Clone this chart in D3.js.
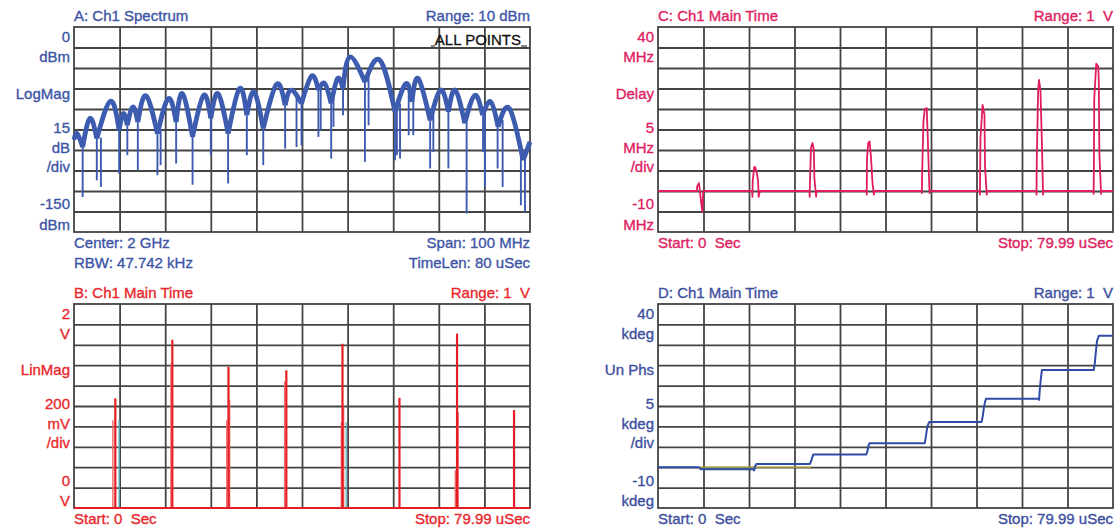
<!DOCTYPE html>
<html>
<head>
<meta charset="utf-8">
<script src="https://cdn.jsdelivr.net/npm/d3@7"></script>
<style>
  html, body { margin: 0; padding: 0; background: #fff; }
  svg { display: block; }
  text { font-family: "Liberation Sans", Arial, sans-serif; font-size: 15px; white-space: pre; }
</style>
</head>
<body>
<svg id="chart" width="1116" height="531"></svg>
<script>
// ---- A: spectrum, lobe nulls/peaks alternating [MHz, dBm]
const specEnvelope = [
  [1950.0, -82.5], [1950.7, -78], [1951.9, -87.8], [1953.5, -66.9], [1955.0, -81.6],
  [1958.0, -54.3], [1959.9, -75.5], [1960.8, -63.3], [1961.7, -71.9], [1962.9, -58.5],
  [1964.0, -69.5], [1965.8, -50.4], [1968.3, -78], [1970.7, -52.4], [1972.4, -69.5],
  [1973.8, -48.8], [1976.0, -80.4], [1978.4, -50], [1980.0, -66.9], [1981.6, -48.8],
  [1983.8, -78], [1986.3, -45], [1987.9, -64.5], [1989.5, -47.6], [1991.5, -74.3],
  [1994.4, -42], [1996.3, -57.2], [1997.6, -46.2], [1999.9, -56], [2002.1, -35.9],
  [2003.6, -46.2], [2005.0, -41.4], [2006.4, -56], [2007.8, -37.7], [2009.0, -45],
  [2010.5, -21.9], [2013.8, -40.2], [2017.1, -24.3], [2020.4, -62.1], [2022.8, -41.4],
  [2024.1, -54.8], [2025.5, -37.7], [2028.1, -68.3], [2030.4, -46.2], [2032.1, -62.1],
  [2033.6, -46.2], [2035.7, -70.5], [2037.9, -50], [2039.6, -64.5], [2041.4, -54.8],
  [2043.0, -73], [2045.5, -59.7], [2048.5, -97.5], [2050.0, -84]
];
// deep nulls [MHz, top dBm, bottom dBm]
const specDips = [
  [1951.9, -87.8, -124.4], [1955.0, -81.6, -112.2], [1955.9, -81, -117], [1959.9, -75.5, -107.3],
  [1961.7, -71.9, -93.8], [1964.0, -69.5, -104.9], [1968.3, -78, -108.5], [1969.0, -75, -101.1],
  [1972.4, -69.5, -99.9], [1976.0, -80.4, -115.4], [1980.0, -66.9, -93.8], [1983.8, -78, -114.5],
  [1987.9, -64.5, -93.8], [1991.5, -74.3, -101.1], [1996.3, -57.2, -89], [1998.8, -50, -87.8],
  [1999.9, -56, -86.6], [2003.6, -46.2, -80.4], [2004.1, -44, -75.5], [2006.4, -56, -96.3],
  [2006.9, -52, -73.1], [2009.0, -45, -64.5], [2013.8, -40.2, -98.7], [2014.6, -36, -71.9],
  [2020.4, -62.1, -97.5], [2020.8, -60, -93.8], [2021.5, -56, -96.3], [2023.4, -46, -79.2],
  [2024.4, -52, -79.2], [2028.1, -68.3, -103.5], [2028.8, -62, -91.4], [2032.1, -62.1, -103.5],
  [2036.1, -70, -136.5], [2039.7, -64.5, -91.4], [2040.1, -62, -117], [2042.9, -72, -103.5],
  [2044.0, -68, -117], [2048.0, -90, -130.4], [2048.9, -92, -135.3]
];

// ---- B: lin mag pulses [uSec, V]
const magPulses = [[7.25, 1.075], [17.25, 1.65], [27.1, 1.385], [37.25, 1.35], [47.1, 1.61], [57.1, 1.08], [67.2, 1.71], [77.2, 0.96]];
const magInner = [[6.82, 0.86], [17.0, 1.42], [27.3, 1.06], [26.8, 0.86], [36.95, 1.24], [47.3, 1.0], [46.9, 0.84], [67.4, 0.94], [66.9, 0.37]];
const magGhost = [[7.9, 0.86], [47.75, 0.84]];

// ---- C: group delay trace [uSec, MHz]
const delayTrace = [
  [0, 0],
  [6.85, 0], [6.88, 1.1], [7.19, 1.9], [7.32, 0.6], [7.63, -3.4], [7.81, -5.1], [7.94, 0],
  [16.55, 0], [16.6, -1.4], [16.65, 2.3], [16.9, 5.8], [17.1, 5.8], [17.4, 4.3], [17.6, 2.3], [17.7, -1.4], [17.9, 0],
  [26.62, 0], [26.67, -1.4], [26.72, 2.3], [26.9, 10.5], [27.16, 11.7], [27.4, 10.1], [27.5, 3.1], [27.8, -1.4], [27.85, 0],
  [36.65, 0], [36.7, -0.9], [36.75, 8.0], [36.96, 11.7], [37.2, 12.1], [37.46, 8.0], [37.7, 2.3], [37.95, -0.9], [38.0, 0],
  [46.35, 0], [46.4, -0.5], [46.45, 4.8], [46.67, 17], [46.9, 20], [47.25, 20.2], [47.4, 14.5], [47.7, 1.1], [47.75, -0.5], [47.8, 0],
  [56.55, 0], [56.6, -0.9], [56.7, 12.9], [57.07, 21], [57.4, 18.6], [57.5, 6], [57.8, -0.9], [57.85, 0],
  [66.5, 0], [66.55, -0.9], [66.6, 7.6], [66.84, 24.7], [67.0, 27.1], [67.25, 24.3], [67.5, 11.7], [67.7, -0.9], [67.75, 0],
  [76.55, 0], [76.6, -0.7], [76.65, 7.6], [76.7, 22.3], [77.05, 31.05], [77.4, 30.4], [77.5, 27.1], [77.6, 9.3], [77.9, -0.7], [77.95, 0],
  [79.99, 0]
];

// ---- D: unwrapped phase [uSec, kdeg]
const phaseTrace = [
  [0, 0], [7.1, 0], [7.3, -0.2], [7.5, -0.5], [16.8, -0.5], [16.9, -0.8], [17.1, 0.3], [17.3, 0.8],
  [26.7, 0.8], [26.9, 1.4], [27.1, 2.3], [27.3, 3.1], [36.6, 3.1], [36.8, 3.8], [37.0, 5.2], [37.2, 5.9],
  [46.9, 5.9], [47.1, 7.5], [47.3, 9.5], [47.5, 10.5], [47.7, 11.1], [56.9, 11.1], [57.1, 12.5], [57.3, 14.6],
  [57.5, 16.0], [57.7, 16.8], [66.9, 16.8], [67.0, 16.5], [67.1, 18.5], [67.3, 21.5], [67.5, 23.8],
  [76.6, 23.8], [76.8, 25.5], [77.0, 28.5], [77.2, 31], [77.5, 32.2], [79.99, 32.2]
];
const phaseGhost = [[7.3, 0], [26.9, 0]];

// ---- text
const aSide = ["0", "dBm", "LogMag", "15", "dB", "/div", "-150", "dBm"];
const bSide = ["2", "V", "LinMag", "200", "mV", "/div", "0", "V"];
const cSide = ["40", "MHz", "Delay", "5", "MHz", "/div", "-10", "MHz"];
const dSide = ["40", "kdeg", "Un Phs", "5", "kdeg", "/div", "-10", "kdeg"];
const timeFoot = ["Start: 0  Sec", "Stop: 79.99 uSec"];

const svg = d3.select('#chart');
const sideRows = [0.72, 1.7, 3.5, 5.17, 6.15, 7.05, 8.9, 9.88];

function panel(o) {
  const g = svg.append('g');
  const x = d3.scaleLinear().domain(o.xDomain).range([o.left, o.left + o.w]);
  const y = d3.scaleLinear().domain(o.yDomain).range([o.top + o.h, o.top]);
  const gx = d3.scaleLinear().domain([0, 10]).range([o.left, o.left + o.w]);
  const gy = d3.scaleLinear().domain([0, 10]).range([o.top, o.top + o.h]);

  // grid
  g.append('g')
    .attr('transform', `translate(0,${o.top})`)
    .call(d3.axisBottom(gx).tickValues(d3.range(1, 10)).tickSize(o.h).tickFormat(''));
  g.append('g')
    .attr('transform', `translate(${o.left},0)`)
    .call(d3.axisRight(gy).tickValues(d3.range(1, 10)).tickSize(o.w).tickFormat(''));
  g.selectAll('.domain').remove();
  g.selectAll('.tick line').attr('stroke', '#444').attr('stroke-width', 1.8);
  g.append('rect')
    .attr('x', o.left).attr('y', o.top).attr('width', o.w).attr('height', o.h)
    .attr('fill', 'none').attr('stroke', '#444').attr('stroke-width', 1.8);

  const txt = (s, tx, ty, anchor, col) => g.append('text')
    .attr('x', tx).attr('y', ty).attr('text-anchor', anchor)
    .attr('fill', col || o.color).attr('stroke', col || o.color).attr('stroke-width', 0.35)
    .text(s);

  txt(o.title, o.left, o.top - 6, 'start');
  txt(o.range, o.left + o.w, o.top - 6, 'end');
  o.side.forEach((s, i) => txt(s, o.left - 4, o.top + sideRows[i] * o.h / 10, 'end'));
  o.footL.forEach((s, i) => txt(s, o.left, o.top + o.h + 16 + i * 19.5, 'start'));
  o.footR.forEach((s, i) => txt(s, o.left + o.w, o.top + o.h + 16 + i * 19.5, 'end'));

  const plot = g.append('g');
  o.draw(plot, x, y);
  return g;
}

// A: spectrum
panel({
  left: 74, top: 27, w: 456, h: 205,
  xDomain: [1950, 2050], yDomain: [-150, 0],
  color: '#3d55a6',
  title: 'A: Ch1 Spectrum', range: 'Range: 10 dBm', side: aSide,
  footL: ['Center: 2 GHz', 'RBW: 47.742 kHz'], footR: ['Span: 100 MHz', 'TimeLen: 80 uSec'],
  draw(p, x, y) {
    const col = '#3d5cb0';
    p.selectAll('.dip').data(specDips).join('line')
      .attr('x1', d => x(d[0])).attr('x2', d => x(d[0]))
      .attr('y1', d => y(d[1])).attr('y2', d => y(d[2]))
      .attr('stroke', col).attr('stroke-width', 1.9);
    const lobes = [];
    for (let i = 1; i < specEnvelope.length; i += 2) lobes.push(specEnvelope.slice(i - 1, i + 2));
    const ln = d3.line().x(d => x(d[0])).y(d => y(d[1])).curve(d3.curveNatural);
    p.selectAll('.lobe').data(lobes).join('path')
      .attr('d', ln).attr('fill', 'none').attr('stroke', col)
      .attr('stroke-width', 4.8).attr('stroke-linejoin', 'round');
    // marker text
    const t = p.append('text').attr('x', 521).attr('y', 45).attr('text-anchor', 'end')
      .attr('fill', '#111').attr('stroke', '#111').attr('stroke-width', 0.3).text('ALL POINTS');
    const bb = t.node().getBBox();
    p.append('line').attr('x1', bb.x - 4).attr('x2', bb.x).attr('y1', 46).attr('y2', 46).attr('stroke', '#111');
    p.append('line').attr('x1', 521).attr('x2', 527).attr('y1', 46).attr('y2', 46).attr('stroke', '#111');
  }
});

// B: lin mag
panel({
  left: 74, top: 304, w: 456, h: 204,
  xDomain: [0, 80], yDomain: [0, 2],
  color: '#e8282d',
  title: 'B: Ch1 Main Time', range: 'Range: 1  V', side: bSide,
  footL: [timeFoot[0]], footR: [timeFoot[1]],
  draw(p, x, y) {
    const vline = (sel, data, col, w) => sel.selectAll(null).data(data).join('line')
      .attr('x1', d => x(d[0])).attr('x2', d => x(d[0]))
      .attr('y1', y(0)).attr('y2', d => y(d[1]))
      .attr('stroke', col).attr('stroke-width', w);
    vline(p, magGhost, '#5fb8c8', 1.3);
    vline(p, magInner, '#ef6b6b', 1.4);
    vline(p, magPulses, '#e41e24', 2.2);
    p.append('line').attr('x1', x(0)).attr('x2', x(79.99)).attr('y1', y(0)).attr('y2', y(0))
      .attr('stroke', '#e41e24').attr('stroke-width', 2.2);
  }
});

// C: group delay
panel({
  left: 658, top: 27, w: 455, h: 205,
  xDomain: [0, 80], yDomain: [-10, 40],
  color: '#de2262',
  title: 'C: Ch1 Main Time', range: 'Range: 1  V', side: cSide,
  footL: [timeFoot[0]], footR: [timeFoot[1]],
  draw(p, x, y) {
    p.append('path').datum(delayTrace)
      .attr('d', d3.line().x(d => x(d[0])).y(d => y(d[1])))
      .attr('fill', 'none').attr('stroke', '#e01d5e').attr('stroke-width', 1.8)
      .attr('stroke-linejoin', 'round');
  }
});

// D: unwrapped phase
panel({
  left: 658, top: 304, w: 455, h: 204,
  xDomain: [0, 80], yDomain: [-10, 40],
  color: '#3d4f9e',
  title: 'D: Ch1 Main Time', range: 'Range: 1  V', side: dSide,
  footL: [timeFoot[0]], footR: [timeFoot[1]],
  draw(p, x, y) {
    const ln = d3.line().x(d => x(d[0])).y(d => y(d[1]));
    p.append('path').datum(phaseGhost).attr('d', ln)
      .attr('fill', 'none').attr('stroke', '#b7b23c').attr('stroke-width', 1.2);
    p.append('path').datum(phaseTrace).attr('d', ln)
      .attr('fill', 'none').attr('stroke', '#2f4ca6').attr('stroke-width', 2)
      .attr('stroke-linejoin', 'round');
  }
});
</script>
</body>
</html>
